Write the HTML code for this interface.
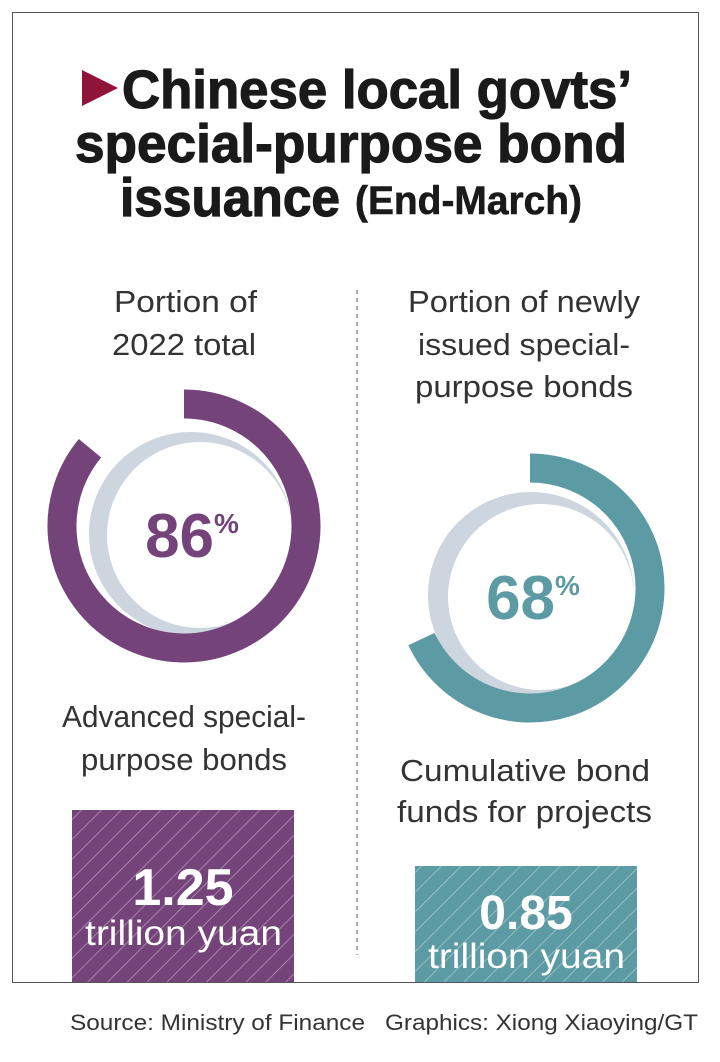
<!DOCTYPE html>
<html><head><meta charset="utf-8"><style>
html,body{margin:0;padding:0;background:#fff;}
svg{display:block;font-family:"Liberation Sans",sans-serif;}
.lbl{font-size:31px;fill:#333;font-weight:300;}
</style></head><body>
<svg id="chart" width="720" height="1062" viewBox="0 0 720 1062">
<defs>
<pattern id="hatch" width="14" height="14" patternUnits="userSpaceOnUse" patternTransform="rotate(45)">
<line x1="0" y1="0" x2="0" y2="14" stroke="rgba(255,255,255,0.35)" stroke-width="2"/>
</pattern>
</defs>
<rect x="12.5" y="12.5" width="686" height="970" fill="none" stroke="#555" stroke-width="1"/>
<polygon points="82,70 118,88 82,106" fill="#8e1538"/>
<g font-weight="bold" fill="#1a1a1a" stroke="#1a1a1a" stroke-width="1.2">
<text x="122" y="108" font-size="54" textLength="510" lengthAdjust="spacingAndGlyphs">Chinese local govts’</text>
<text x="75" y="162" font-size="54" textLength="552" lengthAdjust="spacingAndGlyphs">special-purpose bond</text>
<text x="120" y="216" font-size="54" textLength="220" lengthAdjust="spacingAndGlyphs">issuance</text>
<text x="355" y="214" font-size="40" stroke-width="0.6" textLength="227" lengthAdjust="spacingAndGlyphs">(End-March)</text>
</g>
<line x1="357" y1="290" x2="357" y2="955" stroke="#555" stroke-width="1" stroke-dasharray="4,4"/>
<g class="lbl">
<text x="114" y="312" textLength="143" lengthAdjust="spacingAndGlyphs">Portion of</text><text x="112" y="355" textLength="144" lengthAdjust="spacingAndGlyphs">2022 total</text></g>
<g class="lbl">
<text x="408" y="312" textLength="232" lengthAdjust="spacingAndGlyphs">Portion of newly</text><text x="418" y="355" textLength="212" lengthAdjust="spacingAndGlyphs">issued special-</text><text x="415" y="397" textLength="218" lengthAdjust="spacingAndGlyphs">purpose bonds</text></g>
<g id="rings"></g>
<g class="lbl">
<text x="62" y="727" textLength="244" lengthAdjust="spacingAndGlyphs">Advanced special-</text><text x="81" y="770" textLength="206" lengthAdjust="spacingAndGlyphs">purpose bonds</text></g>
<g class="lbl">
<text x="400" y="781" textLength="250" lengthAdjust="spacingAndGlyphs">Cumulative bond</text><text x="397" y="822" textLength="255" lengthAdjust="spacingAndGlyphs">funds for projects</text></g>
<g>
<rect x="72" y="810" width="222" height="172" fill="#74437a"/>
<rect x="72" y="810" width="222" height="172" fill="url(#hatch)"/>
<text x="183" y="905" font-size="52" font-weight="bold" fill="#fff" text-anchor="middle">1.25</text>
<text x="85" y="945" font-size="35" fill="#fff" textLength="197" lengthAdjust="spacingAndGlyphs">trillion yuan</text>
</g>
<g>
<rect x="415" y="866" width="222" height="116" fill="#5c9ba3"/>
<rect x="415" y="866" width="222" height="116" fill="url(#hatch)"/>
<text x="526" y="929" font-size="48" font-weight="bold" fill="#fff" text-anchor="middle">0.85</text>
<text x="428" y="968" font-size="35" fill="#fff" textLength="197" lengthAdjust="spacingAndGlyphs">trillion yuan</text>
</g>
<text x="70" y="1030" font-size="22" fill="#333" textLength="295" lengthAdjust="spacingAndGlyphs">Source: Ministry of Finance</text>
<text x="385" y="1030" font-size="22" fill="#333" textLength="313" lengthAdjust="spacingAndGlyphs">Graphics: Xiong Xiaoying/GT</text>
</svg>
<script>
const ringLabels = ["2022 total", "newly issued"];
const ringValues = [86, 68];
const ringColors = ["#74437a", "#5c9ba3"];
const NS = "http://www.w3.org/2000/svg";
const g = document.getElementById('rings');
const geo = [
  {cx:184, cy:526, r:122, gcx:191, gcy:534, gr:102, wcx:200, wcy:535, wr:93},
  {cx:530, cy:588, r:120, gcx:531, gcy:595, gr:103, wcx:541, wcy:597, wr:93}
];
function angle(v){ return v/100*2*Math.PI; }
function pt(cx,cy,r,a){ return [cx + r*Math.sin(a), cy - r*Math.cos(a)]; }
ringValues.forEach(function(v,i){
  const G = geo[i];
  const grp = document.createElementNS(NS,'g');
  
  
  const gray = document.createElementNS(NS,'circle');
  gray.setAttribute('cx',G.gcx); gray.setAttribute('cy',G.gcy); gray.setAttribute('r',G.gr);
  gray.setAttribute('fill','#cdd5de');
  
  
  grp.appendChild(gray);
  const white = document.createElementNS(NS,'circle');
  white.setAttribute('cx',G.wcx); white.setAttribute('cy',G.wcy); white.setAttribute('r',G.wr);
  white.setAttribute('fill','#fff');
  grp.appendChild(white);
  const a = angle(v);
  const s = pt(G.cx,G.cy,G.r,0), e = pt(G.cx,G.cy,G.r,a);
  const arc = document.createElementNS(NS,'path');
  arc.setAttribute('d','M'+s[0]+' '+s[1]+' A'+G.r+' '+G.r+' 0 '+(v>50?1:0)+' 1 '+e[0]+' '+e[1]);
  arc.setAttribute('fill','none'); arc.setAttribute('stroke',ringColors[i]); arc.setAttribute('stroke-width','29');
  
  
  grp.appendChild(arc);
  const t = document.createElementNS(NS,'text');
  t.setAttribute('x', G.wcx - 8); t.setAttribute('y', G.wcy + 22);
  t.setAttribute('text-anchor','middle'); t.setAttribute('font-size','62'); t.setAttribute('font-weight','bold');
  t.setAttribute('fill', ringColors[i]);
  
  
  t.textContent = v;
  const sup = document.createElementNS(NS,'tspan');
  sup.setAttribute('font-size','28'); sup.setAttribute('dy','-24');
  sup.textContent = '%';
  t.appendChild(sup);
  grp.appendChild(t);
  g.appendChild(grp);
});
</script>
</body></html>
